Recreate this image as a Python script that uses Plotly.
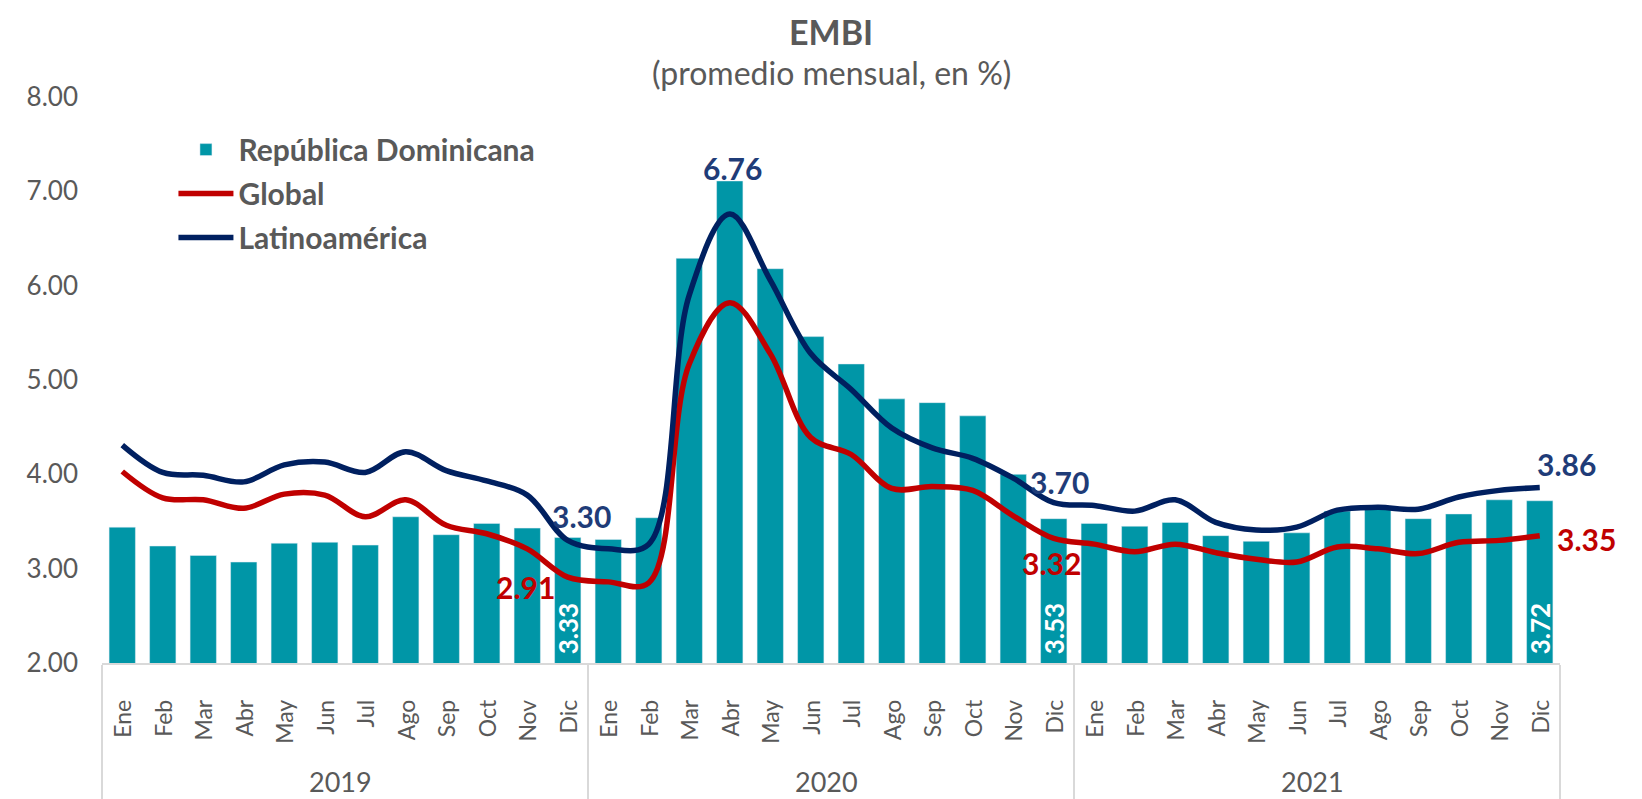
import plotly.graph_objects as go

years = ["2019"] * 12 + ["2020"] * 12 + ["2021"] * 12
months = ["Ene", "Feb", "Mar", "Abr", "May", "Jun", "Jul", "Ago", "Sep", "Oct", "Nov", "Dic"] * 3

rep_dom = [3.44, 3.24, 3.14, 3.07, 3.27, 3.28, 3.25, 3.55, 3.36, 3.48, 3.43, 3.33,
           3.31, 3.54, 6.29, 7.11, 6.18, 5.46, 5.17, 4.80, 4.76, 4.62, 4.00, 3.53,
           3.48, 3.45, 3.49, 3.35, 3.29, 3.38, 3.61, 3.64, 3.53, 3.58, 3.73, 3.72]
global_ = [4.03, 3.75, 3.73, 3.64, 3.79, 3.78, 3.55, 3.73, 3.46, 3.37, 3.21, 2.91,
           2.86, 2.85, 5.17, 5.82, 5.28, 4.39, 4.21, 3.85, 3.87, 3.83, 3.56, 3.32,
           3.26, 3.18, 3.26, 3.17, 3.10, 3.07, 3.23, 3.21, 3.16, 3.28, 3.30, 3.35]
latam = [4.31, 4.02, 3.99, 3.92, 4.10, 4.13, 4.02, 4.24, 4.04, 3.93, 3.78, 3.30,
         3.21, 3.26, 5.90, 6.76, 6.06, 5.28, 4.90, 4.49, 4.28, 4.17, 3.96, 3.70,
         3.67, 3.61, 3.73, 3.49, 3.41, 3.44, 3.62, 3.65, 3.63, 3.76, 3.83, 3.86]

y_ticks = [2, 3, 4, 5, 6, 7, 8]

TEAL = "#0096A7"
NAVY = "#002060"
NAVY_LBL = "#1F3C78"
RED = "#C00000"
GREY = "#595959"
FONT = "Lato"

# month row rendered smaller than the year row; leading non-breaking spaces
# extend the (invisible) label depth so the year row sits lower
month_cats = ["\u00a0" * 3 + f"<span style='font-size:23px'>{m}</span>" for m in months]
x = [years, month_cats]

fig = go.Figure()
fig.add_trace(go.Bar(
    x=x, y=rep_dom, name="República Dominicana", marker_color=TEAL,
    legendgroup="a", hoverinfo="y",
))
fig.add_trace(go.Scatter(
    x=x, y=global_, name="Global", mode="lines",
    line=dict(color=RED, width=5.5, shape="spline", smoothing=1.0),
    legendgroup="b",
))
fig.add_trace(go.Scatter(
    x=x, y=latam, name="Latinoamérica", mode="lines",
    line=dict(color=NAVY, width=5.5, shape="spline", smoothing=1.0),
    legendgroup="c",
))

annotations = []
for i, m in enumerate(months):
    if m == "Dic":
        annotations.append(dict(x=i, y=y_ticks[0], xref="x", yref="y", text=f"{rep_dom[i]:.2f}",
                                showarrow=False, textangle=-90, yanchor="bottom", xanchor="center",
                                yshift=7, font=dict(family=FONT, size=26, color="white", weight="bold")))
latam_lbl = {11: (14, 24), 15: (3, 46), 23: (6, 21), 35: (27, 24)}
for i, (dx, dy) in latam_lbl.items():
    annotations.append(dict(x=i, y=latam[i], xref="x", yref="y", text=f"{latam[i]:.2f}",
                            showarrow=False, xshift=dx, yshift=dy,
                            font=dict(family=FONT, size=30, color=NAVY_LBL, weight="bold")))
global_lbl = {11: (-42, -10), 23: (-2, -25), 35: (47, -3)}
for i, (dx, dy) in global_lbl.items():
    annotations.append(dict(x=i, y=global_[i], xref="x", yref="y", text=f"{global_[i]:.2f}",
                            showarrow=False, xshift=dx, yshift=dy,
                            font=dict(family=FONT, size=30, color=RED, weight="bold")))
annotations.append(dict(x=0.5, y=1.115, xref="paper", yref="paper", xanchor="center", yanchor="middle",
                        text="<b>EMBI</b>", showarrow=False,
                        font=dict(family=FONT, size=34, color=GREY)))
annotations.append(dict(x=0.5, y=1.044, xref="paper", yref="paper", xanchor="center", yanchor="middle",
                        text="(promedio mensual, en %)", showarrow=False,
                        font=dict(family=FONT, size=32, color=GREY)))

fig.update_layout(
    width=1642, height=799,
    margin=dict(l=94, r=90, t=89, b=144, autoexpand=False),
    paper_bgcolor="white", plot_bgcolor="white",
    font=dict(family=FONT, color=GREY),
    bargap=0.35,
    showlegend=True,
    legend=dict(x=0.049, y=0.953, xanchor="left", yanchor="top",
                font=dict(family=FONT, size=30, color=GREY, weight="bold"),
                bgcolor="rgba(0,0,0,0)", tracegroupgap=2, itemwidth=55),
    annotations=annotations,
)
fig.update_xaxes(
    type="multicategory", range=[-0.5, len(months) - 0.5],
    showgrid=False, showline=True, linecolor="#D9D9D9", linewidth=2,
    tickangle=-90, tickfont=dict(family=FONT, size=27, color=GREY),
    showdividers=True, dividercolor="#D9D9D9", dividerwidth=1.5,
    ticks="", ticklabelstandoff=24,
)
fig.update_yaxes(
    range=[y_ticks[0], y_ticks[-1]], tickvals=y_ticks, tickformat=".2f", showgrid=False, zeroline=False,
    showline=False, tickfont=dict(family=FONT, size=26, color=GREY), ticklabelstandoff=23,
)

fig.write_html("out.html")
